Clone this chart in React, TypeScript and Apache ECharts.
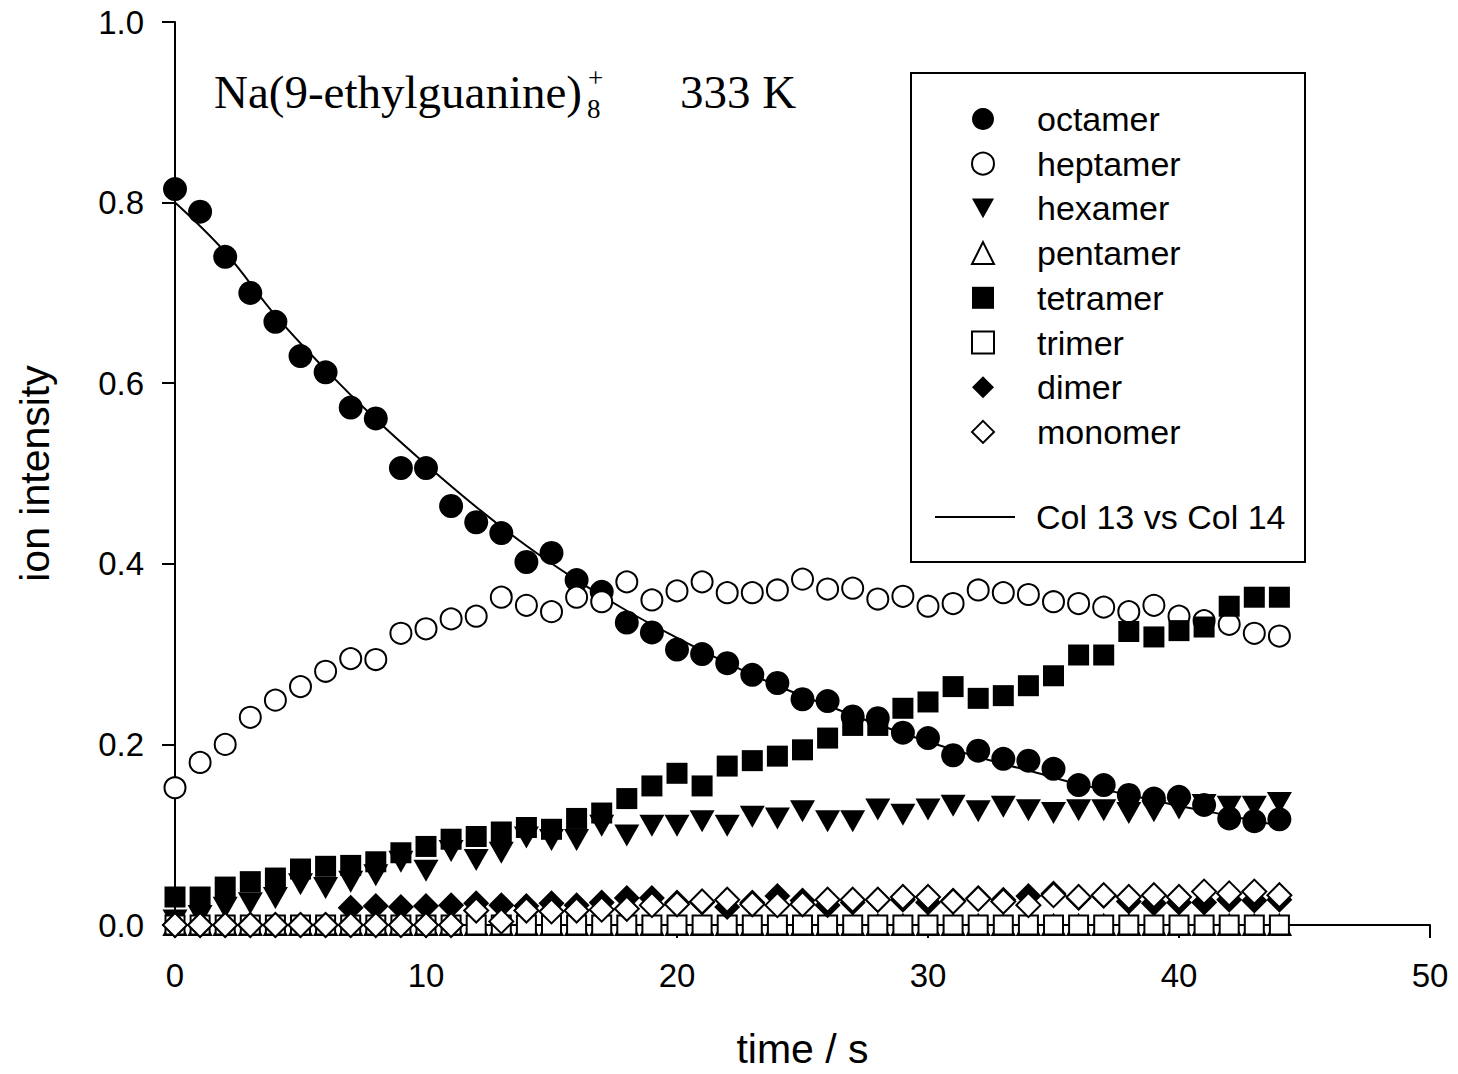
import React, { useEffect, useRef } from "react";
import * as echarts from "echarts";

// time axis (s)
const times: number[] = Array.from({ length: 45 }, (_, i) => i);

const octamer = [0.815, 0.79, 0.74, 0.70, 0.668, 0.63, 0.612, 0.573, 0.561, 0.506, 0.506, 0.464, 0.446, 0.434, 0.402, 0.412, 0.382, 0.369, 0.335, 0.324, 0.305, 0.30, 0.29, 0.277, 0.268, 0.25, 0.248, 0.231, 0.229, 0.213, 0.207, 0.188, 0.193, 0.184, 0.182, 0.173, 0.155, 0.155, 0.144, 0.140, 0.142, 0.133, 0.118, 0.115, 0.117];
const heptamer = [0.152, 0.18, 0.20, 0.23, 0.249, 0.264, 0.281, 0.295, 0.294, 0.323, 0.328, 0.339, 0.342, 0.363, 0.354, 0.347, 0.363, 0.358, 0.38, 0.36, 0.37, 0.38, 0.368, 0.368, 0.371, 0.383, 0.372, 0.373, 0.361, 0.364, 0.353, 0.356, 0.371, 0.368, 0.366, 0.358, 0.356, 0.352, 0.347, 0.354, 0.342, 0.337, 0.333, 0.323, 0.32];
const hexamer = [0.005, 0.01, 0.019, 0.024, 0.03, 0.045, 0.041, 0.048, 0.055, 0.07, 0.06, 0.082, 0.072, 0.08, 0.097, 0.094, 0.094, 0.11, 0.099, 0.11, 0.11, 0.115, 0.11, 0.12, 0.118, 0.126, 0.115, 0.115, 0.128, 0.122, 0.128, 0.132, 0.126, 0.131, 0.127, 0.124, 0.127, 0.127, 0.124, 0.126, 0.129, 0.133, 0.131, 0.131, 0.135];
const pentamer = [0, 0, 0, 0, 0, 0, 0, 0, 0, 0, 0, 0, 0, 0, 0, 0, 0, 0, 0, 0, 0, 0, 0, 0, 0, 0, 0, 0, 0, 0, 0, 0, 0, 0, 0, 0, 0, 0, 0, 0, 0, 0, 0, 0, 0];
const tetramer = [0.031, 0.031, 0.042, 0.048, 0.052, 0.062, 0.065, 0.066, 0.07, 0.08, 0.087, 0.095, 0.098, 0.103, 0.108, 0.106, 0.118, 0.124, 0.14, 0.154, 0.168, 0.154, 0.176, 0.182, 0.187, 0.194, 0.207, 0.221, 0.221, 0.24, 0.247, 0.264, 0.251, 0.254, 0.265, 0.276, 0.299, 0.299, 0.325, 0.319, 0.326, 0.33, 0.353, 0.363, 0.363];
const trimer = [0, 0, 0, 0, 0, 0, 0, 0, 0, 0, 0, 0, 0, 0, 0, 0, 0, 0, 0, 0, 0, 0, 0, 0, 0, 0, 0, 0, 0, 0, 0, 0, 0, 0, 0, 0, 0, 0, 0, 0, 0, 0, 0, 0, 0];
const dimer = [0, 0, 0, 0, 0, 0, 0, 0.019, 0.021, 0.02, 0.021, 0.022, 0.024, 0.022, 0.021, 0.024, 0.022, 0.025, 0.03, 0.03, 0.025, 0.025, 0.02, 0.025, 0.032, 0.027, 0.022, 0.025, 0.028, 0.028, 0.025, 0.027, 0.03, 0.028, 0.032, 0.035, 0.03, 0.032, 0.026, 0.024, 0.025, 0.025, 0.028, 0.027, 0.028];
const monomer = [0, 0, 0, 0, 0, 0, 0, 0, 0, 0, 0, 0, 0.016, 0.004, 0.016, 0.015, 0.016, 0.017, 0.018, 0.022, 0.023, 0.026, 0.028, 0.023, 0.022, 0.023, 0.028, 0.028, 0.028, 0.031, 0.031, 0.026, 0.029, 0.026, 0.022, 0.033, 0.031, 0.033, 0.031, 0.033, 0.031, 0.037, 0.035, 0.037, 0.033];

// fitted curve "Col 13 vs Col 14"
const fitTimes = [0, 2, 4, 6, 8, 10, 12, 14, 16, 18, 20, 22, 24, 26, 28, 30, 32, 34, 36, 38, 40, 42, 44];
const fitValues = [0.80, 0.745, 0.675, 0.615, 0.56, 0.51, 0.463, 0.42, 0.382, 0.348, 0.318, 0.29, 0.265, 0.243, 0.222, 0.203, 0.186, 0.171, 0.156, 0.144, 0.132, 0.121, 0.11];

const xTicks = [0, 10, 20, 30, 40, 50];
const yTicks = [0, 0.2, 0.4, 0.6, 0.8, 1.0];

const SANS = '"Liberation Sans", Arial, sans-serif';
const SERIF = '"Liberation Serif", "Times New Roman", serif';
const DOWN_TRI = "path://M0,0L20,0L10,18Z";

const pairs = (xs: number[], ys: number[]) => xs.map((x, i) => [x, ys[i]]);

const filled = { color: "#000", borderColor: "#000", borderWidth: 0, opacity: 1 };
const open = { color: "#fff", borderColor: "#000", borderWidth: 2, opacity: 1 };

type Def = { name: string; values: number[]; symbol: string; size: number | number[]; style: any };
const defs: Def[] = [
  { name: "octamer", values: octamer, symbol: "circle", size: 24, style: filled },
  { name: "heptamer", values: heptamer, symbol: "circle", size: 21, style: open },
  { name: "hexamer", values: hexamer, symbol: DOWN_TRI, size: [25, 22], style: filled },
  { name: "pentamer", values: pentamer, symbol: "triangle", size: [22, 20], style: open },
  { name: "tetramer", values: tetramer, symbol: "rect", size: 21, style: filled },
  { name: "trimer", values: trimer, symbol: "rect", size: 19, style: open },
  { name: "dimer", values: dimer, symbol: "diamond", size: 26, style: filled },
  { name: "monomer", values: monomer, symbol: "diamond", size: 24, style: open },
];

export default function App() {
  const ref = useRef<HTMLDivElement>(null);
  useEffect(() => {
    if (!ref.current) return;
    const chart = echarts.init(ref.current, undefined, { renderer: "svg" });
    const scatter = defs.map((d) => ({
      name: d.name,
      type: "scatter",
      data: pairs(times, d.values),
      symbol: d.symbol,
      symbolSize: d.size,
      itemStyle: d.style,
      emphasis: { disabled: true },
      z: 3,
    }));
    chart.setOption({
      animation: false,
      backgroundColor: "#fff",
      grid: { left: 175, top: 22, right: 28, bottom: 147, containLabel: false },
      xAxis: {
        type: "value",
        min: xTicks[0],
        max: xTicks[xTicks.length - 1],
        interval: 10,
        name: "time / s",
        nameLocation: "middle",
        nameGap: 103,
        nameTextStyle: { fontFamily: SANS, fontSize: 41, color: "#000" },
        axisLine: { show: true, onZero: false, lineStyle: { color: "#000", width: 2 } },
        axisTick: { show: true, inside: false, length: 13, lineStyle: { color: "#000", width: 2 } },
        axisLabel: { fontFamily: SANS, fontSize: 33, color: "#000", margin: 34 },
        splitLine: { show: false },
      },
      yAxis: {
        type: "value",
        min: yTicks[0],
        max: yTicks[yTicks.length - 1],
        interval: 0.2,
        name: "ion intensity",
        nameLocation: "middle",
        nameGap: 120,
        nameTextStyle: { fontFamily: SANS, fontSize: 41, color: "#000" },
        axisLine: { show: true, onZero: false, lineStyle: { color: "#000", width: 2 } },
        axisTick: { show: true, inside: false, length: 13, lineStyle: { color: "#000", width: 2 } },
        axisLabel: {
          fontFamily: SANS,
          fontSize: 33,
          color: "#000",
          margin: 31,
          formatter: (v: number) => v.toFixed(1),
        },
        splitLine: { show: false },
      },
      legend: [
        {
          orient: "vertical",
          left: 971,
          top: 102,
          padding: 0,
          itemWidth: 22,
          itemHeight: 22,
          itemGap: 10.7,
          selectedMode: false,
          textStyle: { fontFamily: SANS, fontSize: 34, color: "#000", padding: [0, 0, 0, 38], lineHeight: 34 },
          data: defs.map((d) => ({
            name: d.name,
            icon: d.symbol,
            itemStyle: d.style,
          })),
        },
        {
          orient: "vertical",
          left: 935,
          top: 500,
          padding: 0,
          itemWidth: 80,
          itemHeight: 2,
          selectedMode: false,
          textStyle: { fontFamily: SANS, fontSize: 34, color: "#000", padding: [0, 0, 0, 16], lineHeight: 34 },
          data: [{ name: "Col 13 vs Col 14", icon: "rect", itemStyle: { color: "#000", borderWidth: 0 } }],
        },
      ],
      graphic: [
        {
          type: "rect",
          z: 1,
          shape: { x: 911, y: 73, width: 394, height: 489 },
          style: { fill: "#fff", stroke: "#000", lineWidth: 2 },
        },
        {
          type: "text",
          x: 214,
          y: 92,
          style: { text: "Na(9-ethylguanine)", font: `47px ${SERIF}`, fill: "#000", verticalAlign: "middle", align: "left" },
        },
        {
          type: "text",
          x: 588,
          y: 78,
          style: { text: "+", font: `27px ${SERIF}`, fill: "#000", verticalAlign: "middle", align: "left" },
        },
        {
          type: "text",
          x: 587,
          y: 109,
          style: { text: "8", font: `27px ${SERIF}`, fill: "#000", verticalAlign: "middle", align: "left" },
        },
        {
          type: "text",
          x: 680,
          y: 92,
          style: { text: "333 K", font: `47px ${SERIF}`, fill: "#000", verticalAlign: "middle", align: "left" },
        },
      ],
      series: [
        ...scatter,
        {
          name: "Col 13 vs Col 14",
          type: "line",
          data: pairs(fitTimes, fitValues),
          smooth: 0.4,
          symbol: "none",
          showSymbol: false,
          lineStyle: { color: "#000", width: 2 },
          itemStyle: { color: "#000" },
          emphasis: { disabled: true },
          z: 2,
        },
      ],
    });
    return () => chart.dispose();
  }, []);
  return (
    <div
      ref={ref}
      style={{ position: "absolute", left: 0, top: 0, width: 1458, height: 1074, background: "#fff" }}
    />
  );
}
